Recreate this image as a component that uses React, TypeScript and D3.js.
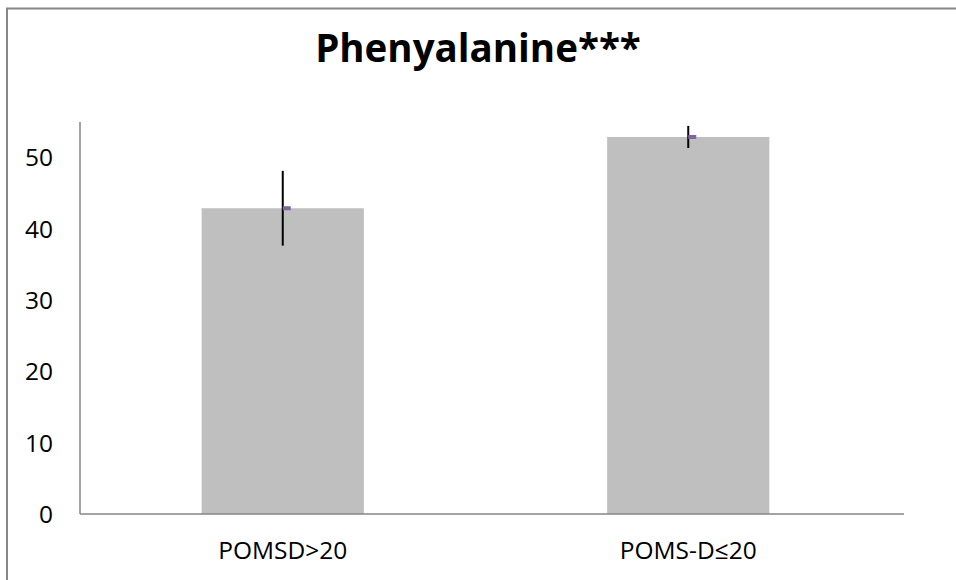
import React from "react";
import * as d3 from "d3";

const categories = ["POMSD>20", "POMS-D≤20"];
const means = [42.9, 52.9];
const errors = [5.25, 1.55];
const yTicks = [0, 10, 20, 30, 40, 50];
const title = "Phenyalanine***";

const W = 956;
const H = 580;
const plot = { left: 80, right: 891, top: 122, bottom: 514 };

export default function App() {
  const x = d3
    .scaleBand<string>()
    .domain(categories)
    .range([plot.left, plot.right])
    .paddingInner(0.6)
    .paddingOuter(0.3);
  const y = d3.scaleLinear().domain([0, 55]).range([plot.bottom, plot.top]);
  const font = "'Open Sans', 'Liberation Sans', sans-serif";

  return (
    <svg
      width={W}
      height={H}
      style={{ position: "absolute", left: 0, top: 0, background: "#fff" }}
    >
      <rect x={7} y={8.5} width={1000} height={700} fill="#fff" stroke="#868686" strokeWidth={2} />
      <text
        x={478}
        y={62}
        textAnchor="middle"
        fontFamily={font}
        fontWeight="bold"
        fontSize={38.5}
        fill="#000"
      >
        {title}
      </text>
      {categories.map((c, i) => (
        <rect
          key={c}
          x={x(c)!}
          y={y(means[i])}
          width={x.bandwidth()}
          height={y(0) - y(means[i])}
          fill="#BFBFBF"
        />
      ))}
      <line x1={plot.left} x2={plot.left} y1={plot.top} y2={plot.bottom} stroke="#868686" strokeWidth={1.5} />
      <line x1={plot.left} x2={904} y1={plot.bottom} y2={plot.bottom} stroke="#868686" strokeWidth={1.5} />
      {yTicks.map((t) => (
        <text
          key={t}
          x={53}
          y={y(t)}
          dy="0.36em"
          textAnchor="end"
          fontFamily={font}
          fontSize={24.5}
          fill="#000"
        >
          {t}
        </text>
      ))}
      {categories.map((c, i) => {
        const cx = x(c)! + x.bandwidth() / 2;
        return (
          <g key={c + "e"}>
            <line x1={cx} x2={cx} y1={y(means[i] + errors[i])} y2={y(means[i] - errors[i])} stroke="#000" strokeWidth={2} />
            <rect x={cx} y={y(means[i]) - 2} width={8} height={4} fill="#8064A2" />
            <text
              x={cx}
              y={559}
              textAnchor="middle"
              fontFamily={font}
              fontSize={24.5}
              fill="#000"
            >
              {c}
            </text>
          </g>
        );
      })}
    </svg>
  );
}
